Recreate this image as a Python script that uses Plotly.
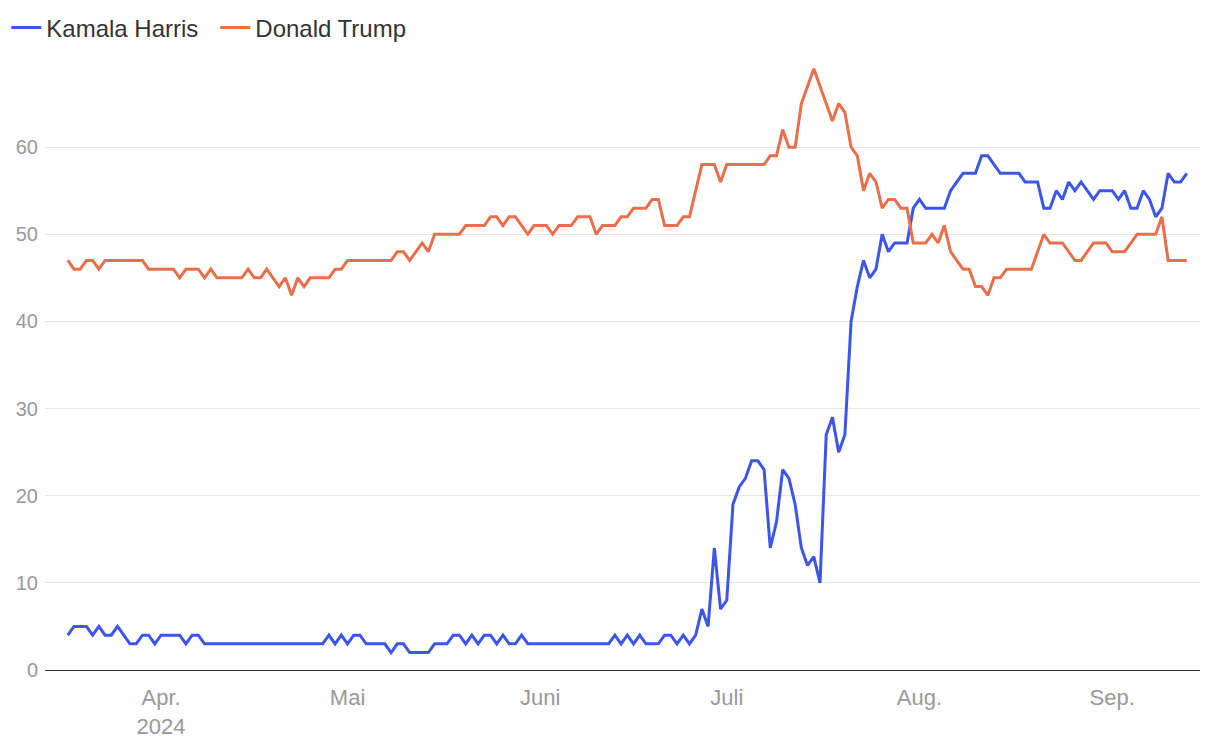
import pandas as pd
import plotly.graph_objects as go

dates = pd.date_range("2024-03-17", "2024-09-13", freq="D")

harris = [4,5,5,5,4,5,4,4,5,4,
          3,3,4,4,3,4,4,4,4,3,4,4,
          3,3,3,3,3,3,3,3,3,3,3,3,3,3,3,3,3,3,3,3,
          4,3,4,3,4,4,3,3,3,3,2,3,3,2,2,2,2,
          3,3,3,4,4,3,4,3,4,4,3,4,3,3,4,
          3,3,3,3,3,3,3,3,3,3,3,3,3,3,
          4,3,4,3,4,3,3,3,4,4,3,4,3,4,7,5,14,7,8,19,21,22,24,24,23,14,17,23,22,19,14,12,13,10,
          27,29,25,27,40,44,47,45,46,50,48,49,49,49,53,54,53,53,53,53,55,56,57,57,57,59,
          59,58,57,57,57,57,56,56,56,53,53,55,54,56,55,56,55,54,55,55,55,54,55,53,53,55,54,52,53,57,56,56,57]

trump = [47,46,46,47,47,46,47,47,47,47,47,47,47,
         46,46,46,46,46,
         45,46,46,46,45,46,45,45,45,45,45,
         46,45,45,46,45,44,45,43,45,44,45,45,45,45,46,46,
         47,47,47,47,47,47,47,47,
         48,48,47,48,49,48,
         50,50,50,50,50,
         51,51,51,51,
         52,52,51,52,52,51,50,51,51,51,50,51,51,51,52,52,52,50,51,51,51,52,52,
         53,53,53,54,54,51,51,51,52,52,55,58,58,58,56,
         58,58,58,58,58,58,58,
         59,59,62,60,60,65,67,69,67,65,63,65,64,60,59,55,57,56,53,54,54,53,53,49,49,49,50,49,51,48,47,46,46,44,44,43,45,45,
         46,46,46,46,46,
         48,50,49,49,49,48,47,47,48,49,49,49,48,48,48,49,50,50,50,50,52,47,47,47,47]

tick_dates = ["2024-04-01", "2024-05-01", "2024-06-01", "2024-07-01", "2024-08-01", "2024-09-01"]
tick_text = ["Apr.<br>2024", "Mai", "Juni", "Juli", "Aug.", "Sep."]
y_ticks = [0, 10, 20, 30, 40, 50, 60]

fig = go.Figure()
fig.add_trace(go.Scatter(x=dates, y=harris, mode="lines", name="Kamala Harris",
                         line=dict(color="#3d55ea", width=3)))
fig.add_trace(go.Scatter(x=dates, y=trump, mode="lines", name="Donald Trump",
                         line=dict(color="#e96e4a", width=3)))

fig.update_layout(
    width=1220, height=746,
    margin=dict(l=37, r=28, t=52, b=84, autoexpand=False),
    paper_bgcolor="white", plot_bgcolor="white",
    font=dict(family="Liberation Sans, Arial, sans-serif", size=21, color="#999999"),
    showlegend=True,
    legend=dict(orientation="h", x=-0.0335, xanchor="left", y=1.0525, yanchor="middle",
                font=dict(size=24, color="#333333"), itemwidth=30, tracegroupgap=0,
                entrywidth=164, entrywidthmode="pixels"),
    xaxis=dict(range=["2024-03-13 08:00", "2024-09-15 03:00"],
               tickvals=tick_dates, ticktext=tick_text, showgrid=False,
               showline=True, linecolor="#333333", linewidth=1,
               ticks="outside", ticklen=8, tickcolor="rgba(0,0,0,0)",
               tickfont=dict(size=22, color="#999999"), zeroline=False),
    yaxis=dict(range=[0, 70], tickvals=y_ticks, showgrid=True, gridcolor="#e6e6e6",
               gridwidth=1, zeroline=False, showline=False,
               ticks="outside", ticklen=2, tickcolor="rgba(0,0,0,0)",
               tickfont=dict(size=20, color="#999999")),
)

fig.write_html("out.html")
